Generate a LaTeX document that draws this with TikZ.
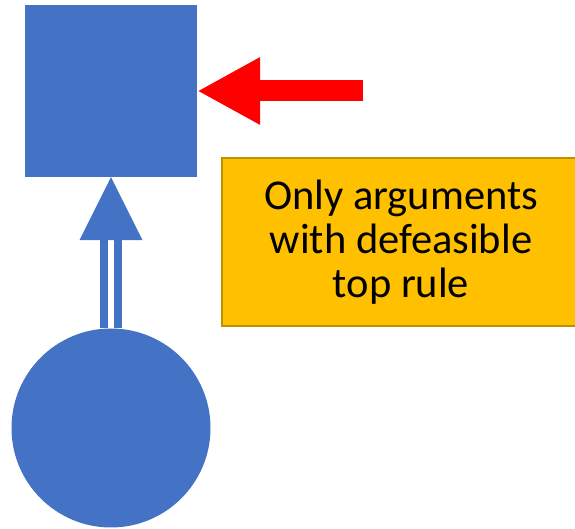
\documentclass[tikz,border=0pt]{standalone}
\usepackage{fontspec}
\setmainfont{Carlito}
\usetikzlibrary{arrows.meta,calc}
\definecolor{shapeblue}{HTML}{4472C4}
\definecolor{notegold}{HTML}{FFC000}
\definecolor{noteedge}{HTML}{BF9000}
\tikzset{
  blueshape/.style={fill=shapeblue, draw=none, inner sep=0pt},
  notebox/.style={fill=notegold, draw=noteedge, line width=1.5pt, inner sep=0pt,
    minimum width=354pt, minimum height=168pt},
  notetext/.style={align=center, inner sep=0pt, font=\fontsize{42.5}{44}\selectfont},
  redarrow/.style={draw=red, line width=21pt, -{Triangle[length=63pt,width=63pt]}}
}
\begin{document}
\begin{tikzpicture}[x=1pt,y=1pt]
\useasboundingbox (0,0) rectangle (575,529);
\node[blueshape, minimum size=172pt] (sq) at (111,438) {};
\node[blueshape, circle, minimum size=199pt] (circ) at (111,101) {};
\node[notebox] (note) at (399,287) {};
\node[notetext] (notetxt) at (401,287) {Only arguments\\with defeasible\\top rule};
\coordinate (redstart) at (363,438);
\draw[redarrow] (redstart) -- (sq.east);
% double-shafted arrow from circle to square
\fill[shapeblue] ($(circ.north)+(-11,0)$) rectangle ($(sq.south)+(-3,-63)$);
\fill[shapeblue] ($(circ.north)+(3,0)$) rectangle ($(sq.south)+(11,-63)$);
\fill[shapeblue] (sq.south) -- ++(-31.5,-63) -- ++(63,0) -- cycle;
\end{tikzpicture}
\end{document}
